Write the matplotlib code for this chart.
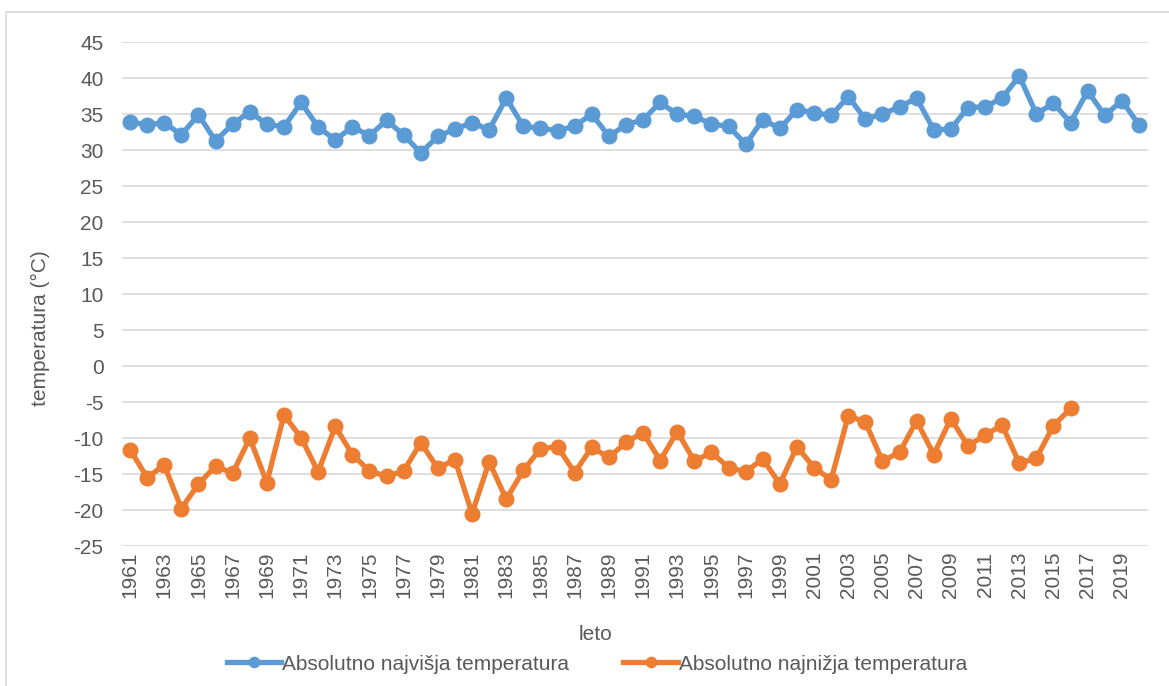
import matplotlib
matplotlib.use("Agg")
import matplotlib.pyplot as plt
from matplotlib.patches import Rectangle

plt.rcParams['font.family'] = ['Liberation Sans', 'DejaVu Sans']

years = list(range(1961, 2021))

max_temp = [33.9, 33.5, 33.8, 32.1, 34.9, 31.25, 33.6, 35.3, 33.6, 33.2,
            36.6, 33.2, 31.4, 33.2, 32.0, 34.1, 32.1, 29.6, 31.9, 32.9,
            33.8, 32.8, 37.2, 33.3, 33.0, 32.7, 33.3, 35.0, 31.9, 33.5,
            34.2, 36.6, 34.95, 34.7, 33.6, 33.3, 30.8, 34.2, 33.0, 35.6,
            35.2, 34.8, 37.4, 34.3, 35.0, 36.0, 37.2, 32.8, 32.9, 35.9,
            36.0, 37.2, 40.3, 35.0, 36.5, 33.8, 38.2, 34.8, 36.85, 33.5]

min_temp = [-11.6, -15.5, -13.75, -19.8, -16.4, -13.9, -14.9, -10.0, -16.2, -6.8,
            -9.95, -14.7, -8.4, -12.3, -14.6, -15.3, -14.6, -10.65, -14.2, -13.0,
            -20.5, -13.3, -18.5, -14.5, -11.5, -11.2, -14.8, -11.3, -12.7, -10.6,
            -9.25, -13.15, -9.1, -13.2, -12.0, -14.1, -14.7, -12.9, -16.4, -11.2,
            -14.1, -15.8, -6.9, -7.8, -13.2, -12.0, -7.6, -12.3, -7.3, -11.1,
            -9.6, -8.2, -13.5, -12.8, -8.3, -5.9]

y_ticks = list(range(-25, 50, 5))

W, H = 1169, 686
fig = plt.figure(figsize=(W / 100, H / 100), dpi=100)

def fx(px):
    return px / W

def fy(py):
    return 1 - py / H

# outer chart border (light grey)
fig.patches.append(Rectangle((fx(6), fy(700)), fx(1180) - fx(6), fy(12) - fy(700),
                             transform=fig.transFigure, fill=False,
                             edgecolor='#D9D9D9', linewidth=1.2))

ax = fig.add_axes([fx(121.5), fy(546), fx(1147.5) - fx(121.5), fy(42) - fy(546)])

text_col = '#595959'
blue = '#5B9BD5'
orange = '#ED7D31'
fs = 15

x_max = list(range(len(max_temp)))
x_min = list(range(len(min_temp)))

ax.plot(x_max, max_temp, color=blue, lw=3.8, marker='o', markersize=10.5,
        solid_joinstyle='round', label='Absolutno najvišja temperatura', zorder=3)
ax.plot(x_min, min_temp, color=orange, lw=3.8, marker='o', markersize=10.5,
        solid_joinstyle='round', label='Absolutno najnižja temperatura', zorder=3)

ax.set_xlim(-0.5, len(years) - 0.5)
ax.set_ylim(-25, 45)
ax.set_yticks(y_ticks)
ax.set_yticklabels([str(v) for v in y_ticks])
ax.set_xticks(range(0, len(years), 2))
ax.set_xticklabels([str(y) for y in years[::2]], rotation=90)

ax.grid(axis='y', color='#D9D9D9', lw=1.2, zorder=0)
ax.set_axisbelow(True)
for s in ax.spines.values():
    s.set_visible(False)
ax.tick_params(axis='both', length=0, labelsize=fs, colors=text_col)
ax.tick_params(axis='y', pad=13)
ax.tick_params(axis='x', pad=4)

fig.text(fx(40), fy(328), 'temperatura (°C)', rotation=90, ha='center', va='center',
         fontsize=fs, color=text_col)
fig.text(fx(595), fy(635), 'leto', ha='center', va='center', fontsize=fs, color=text_col)

leg = fig.legend(loc='center', bbox_to_anchor=(fx(597), fy(664)), ncol=2, frameon=False,
                 fontsize=fs, handlelength=2.6, handletextpad=0.05, columnspacing=2.6,
                 markerscale=0.7)
for t in leg.get_texts():
    t.set_color(text_col)

fig.savefig('out.png', dpi=100)
